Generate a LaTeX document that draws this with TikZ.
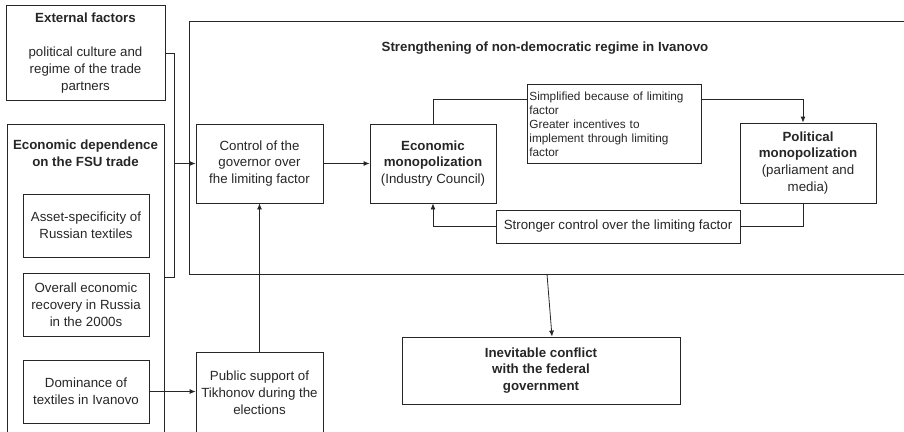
\documentclass[tikz,border=0pt]{standalone}
\usepackage{fontspec}
\setmainfont{Liberation Sans}
\usetikzlibrary{arrows.meta}
\begin{document}
\begin{tikzpicture}[x=1pt,y=-1pt,
  every node/.style={font=\fontsize{13.3}{16.9}\selectfont, text=black!85},
  box/.style={draw=black!85, line width=0.8pt, inner sep=2pt, align=center},
  lbl/.style={inner sep=0pt, align=center},
  ln/.style={draw=black!85, line width=0.8pt},
  arr/.style={draw=black!85, line width=0.8pt, -{Latex[length=6pt,width=5pt]}}]
\useasboundingbox (0,0) rectangle (904,431);
\clip (0,0) rectangle (904,431);
% left column
\node[box, minimum width=159pt, minimum height=95pt] (ext) at (85.5,53)
  {\textbf{External factors}\\[17pt]political culture and\\regime of the trade\\partners};
\node[box, minimum width=157pt, minimum height=320pt] (econ) at (85.5,284) {};
\node[lbl] (econt) at (85.5,153) {\textbf{Economic dependence}\\\textbf{on the FSU trade}};
\node[box, minimum width=126pt, minimum height=63pt] (asset) at (86,225.5)
  {Asset-specificity of\\Russian textiles};
\node[box, minimum width=126pt, minimum height=63pt] (overall) at (86,304.5)
  {Overall economic\\recovery in Russia\\in the 2000s};
\node[box, minimum width=126pt, minimum height=63pt] (dom) at (86,391.5)
  {Dominance of\\textiles in Ivanovo};
% big box
\node[box, minimum width=730pt, minimum height=253pt, anchor=north west] (big) at (189,21) {};
\node[lbl] (bigt) at (545,48) {\textbf{Strengthening of non-democratic regime in Ivanovo}};
% inner boxes
\node[box, minimum width=127pt, minimum height=79pt] (ctrl) at (259.5,163.5)
  {Control of the\\governor over\\fhe limiting factor};
\node[box, minimum width=126pt, minimum height=79pt] (emono) at (433,163.5)
  {\textbf{Economic}\\\textbf{monopolization}\\(Industry Council)};
\node[box, minimum width=174pt, minimum height=79pt, align=left, anchor=north west,
      font=\fontsize{11.8}{14}\selectfont, text width=170pt, inner sep=2pt] (simp) at (527,84)
  {Simplified because of limiting\\factor\\Greater incentives to\\implement through limiting\\factor};
\node[box, minimum width=136pt, minimum height=80pt] (pol) at (808,163)
  {\textbf{Political}\\\textbf{monopolization}\\(parliament and\\media)};
\node[box, minimum width=244pt, minimum height=33pt] (strong) at (618,226.5)
  {Stronger control over the limiting factor};
% bottom boxes
\node[box, minimum width=127pt, minimum height=80pt] (pub) at (259.5,392.5)
  {Public support of\\Tikhonov during the\\elections};
\node[box, minimum width=278pt, minimum height=67pt] (inev) at (541,370.5)
  {\textbf{Inevitable conflict}\\\textbf{with the federal}\\\textbf{government}};
% connectors
\coordinate (jt) at (174,53);
\coordinate (jb) at (174,277);
\coordinate (ty) at (0,99);
\coordinate (bs) at (547,274);
\draw[ln] (ext.east |- jt) -- (jt) -- (jb) -- (econ.east |- jb);
\draw[arr] (jt |- ctrl.west) -- (ctrl.west);
\draw[arr] (ctrl) -- (emono);
\draw[ln] (emono.north) |- (simp.west |- ty);
\draw[arr] (simp.east |- ty) -| ([xshift=-5pt]pol.north);
\draw[ln] ([xshift=-5pt]pol.south) |- (strong.east);
\draw[arr] (strong.west) -| (emono.south);
\draw[arr] (pub.north) -- (ctrl.south);
\draw[arr] (dom.east) -- (pub.west |- dom.east);
\draw[arr] (bs) -- ([xshift=11pt]inev.north);
\end{tikzpicture}
\end{document}
